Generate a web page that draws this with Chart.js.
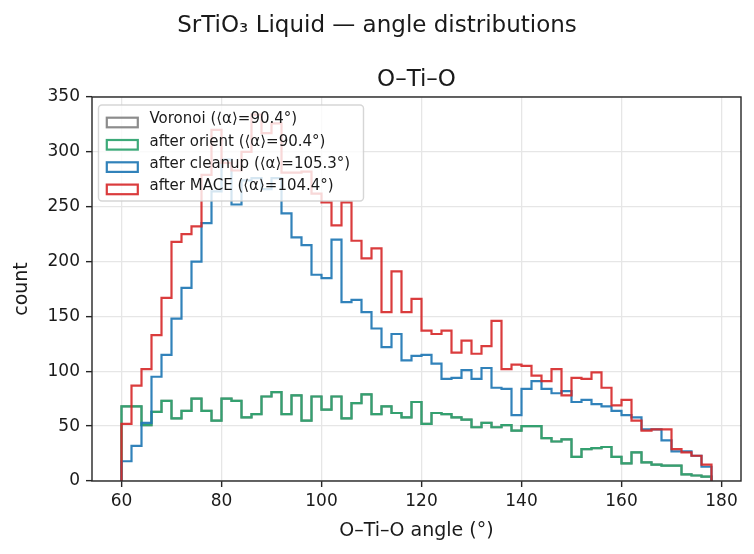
<!DOCTYPE html>
<html><head><meta charset="utf-8">
<script src="https://cdn.jsdelivr.net/npm/chart.js@4/dist/chart.umd.min.js"></script>
<style>html,body{margin:0;padding:0;background:#fff}#wrap{width:754px;height:554px}</style>
</head><body><div id="wrap"><canvas id="c" width="754" height="554"></canvas></div>
<script>
// bin left edges (degrees), last right edge
const binLeft = [60,62,64,66,68,70,72,74,76,78,80,82,84,86,88,90,92,94,96,98,100,102,104,106,108,110,112,114,116,118,120,122,124,126,128,130,132,134,136,138,140,142,144,146,148,150,152,154,156,158,160,162,164,166,168,170,172,174,176];
const binRightEnd = 178;

const voronoi = [68,68,51,63,73,57,64,75,64,55,75,73,58,61,77,81,61,78,55,77,65,77,57,71,79,61,68,62,58,72,52,62,61,58,56,49,53,49,51,46,50,50,39,36,38,22,29,30,31,22,16,26,17,15,14,14,6,5,4];
const afterOrient = [68,68,51,63,73,57,64,75,64,55,75,73,58,61,77,81,61,78,55,77,65,77,57,71,79,61,68,62,58,72,52,62,61,58,56,49,53,49,51,46,50,50,39,36,38,22,29,30,31,22,16,26,17,15,14,14,6,5,4];
const afterCleanup = [18,32,53,95,115,148,176,200,235,264,293,252,274,276,266,276,244,222,215,188,185,220,163,165,154,139,122,134,110,114,115,107,93,94,101,93,103,85,84,60,84,91,84,80,82,72,74,70,68,64,60,58,47,47,37,27,27,23,13];
const afterMace = [52,87,102,133,167,218,225,232,279,320,290,283,300,334,317,326,281,281,282,262,254,233,254,219,203,212,154,191,154,166,137,134,137,117,128,116,123,146,102,106,105,96,91,102,78,94,93,99,85,69,74,55,46,47,47,29,26,23,15];

const seriesLabels = ['Voronoi (⟨α⟩=90.4°)','after orient (⟨α⟩=90.4°)','after cleanup (⟨α⟩=105.3°)','after MACE (⟨α⟩=104.4°)'];
const seriesColors = ['rgba(127,127,127,0.9)','rgba(44,163,110,0.92)','rgba(31,119,180,0.92)','rgba(214,39,40,0.9)'];
const xTicks = [60,80,100,120,140,160,180];
const yTicks = [0,50,100,150,200,250,300,350];

const FONT = 'DejaVu Sans';
function stepPoints(vals){
  const pts=[{x:binLeft[0],y:0}];
  binLeft.forEach((e,i)=>pts.push({x:e,y:vals[i]}));
  pts.push({x:binRightEnd,y:vals[vals.length-1]});
  pts.push({x:binRightEnd,y:0});
  return pts;
}
const allVals=[voronoi,afterOrient,afterCleanup,afterMace];
const datasets = allVals.map((v,i)=>({
  label:seriesLabels[i], data:stepPoints(v), stepped:'before',
  borderColor:seriesColors[i], borderWidth:2.2, fill:false, pointRadius:0,
  order:3-i, borderJoinStyle:'miter'
}));

const overlay = {
  id:'overlay',
  afterDatasetsDraw(chart){
    const {ctx, chartArea:a} = chart;
    ctx.save();
    ctx.strokeStyle='#262626'; ctx.lineWidth=1.4;
    ctx.strokeRect(a.left, a.top, a.right-a.left, a.bottom-a.top);
    const lx=98.5, ly=105, lw=265, lh=96, r=3.5;
    ctx.beginPath();
    ctx.moveTo(lx+r,ly); ctx.lineTo(lx+lw-r,ly); ctx.arcTo(lx+lw,ly,lx+lw,ly+r,r);
    ctx.lineTo(lx+lw,ly+lh-r); ctx.arcTo(lx+lw,ly+lh,lx+lw-r,ly+lh,r);
    ctx.lineTo(lx+r,ly+lh); ctx.arcTo(lx,ly+lh,lx,ly+lh-r,r);
    ctx.lineTo(lx,ly+r); ctx.arcTo(lx,ly,lx+r,ly,r); ctx.closePath();
    ctx.fillStyle='rgba(255,255,255,0.8)'; ctx.fill();
    ctx.strokeStyle='rgba(204,204,204,0.8)'; ctx.lineWidth=1.4; ctx.stroke();
    ctx.font='15px "'+FONT+'"'; ctx.textBaseline='middle'; ctx.textAlign='left';
    chart.data.datasets.forEach((ds,i)=>{
      const cy = 122.5 + i*22.3;
      ctx.strokeStyle=ds.borderColor; ctx.lineWidth=2.2;
      ctx.strokeRect(106.8, cy-4.8, 31, 9.6);
      ctx.fillStyle='#1a1a1a';
      ctx.fillText(ds.label, 149.5, cy-3);
    });
    ctx.textAlign='center'; ctx.textBaseline='alphabetic'; ctx.fillStyle='#1a1a1a';
    ctx.font='23px "'+FONT+'"';
    ctx.fillText('SrTiO₃ Liquid — angle distributions', 377, 32);
    ctx.fillText('O–Ti–O', (a.left+a.right)/2, 86);
    ctx.restore();
  }
};

new Chart(document.getElementById('c'), {
  type:'line',
  data:{datasets},
  plugins:[overlay],
  options:{
    responsive:false, animation:false, devicePixelRatio:1,
    layout:{padding:{top:97,right:13,left:0,bottom:0}},
    plugins:{legend:{display:false}, title:{display:false}, tooltip:{enabled:false}},
    elements:{point:{radius:0}, line:{tension:0}},
    scales:{
      x:{type:'linear', min:54.1, max:183.9,
        afterBuildTicks:s=>{s.ticks=xTicks.map(v=>({value:v}));},
        afterFit:s=>{s.height=73;},
        grid:{color:'#e6e6e6', lineWidth:1.3, tickLength:6, tickColor:'#262626', tickWidth:1.4, drawTicks:true},
        border:{display:false},
        ticks:{font:{family:FONT,size:17}, color:'#1a1a1a', padding:4, maxRotation:0, autoSkip:false},
        title:{display:true, text:'O–Ti–O angle (°)', font:{family:FONT,size:19}, color:'#1a1a1a', padding:{top:0,bottom:12}}
      },
      y:{type:'linear', min:0, max:350,
        afterBuildTicks:s=>{s.ticks=yTicks.map(v=>({value:v}));},
        afterFit:s=>{s.width=92;},
        grid:{color:'#e6e6e6', lineWidth:1.3, tickLength:6, tickColor:'#262626', tickWidth:1.4, drawTicks:true},
        border:{display:false},
        ticks:{font:{family:FONT,size:17}, color:'#1a1a1a', padding:6, autoSkip:false},
        title:{display:true, text:'count', font:{family:FONT,size:19}, color:'#1a1a1a', padding:{top:11,bottom:0}}
      }
    }
  }
});
</script></body></html>
